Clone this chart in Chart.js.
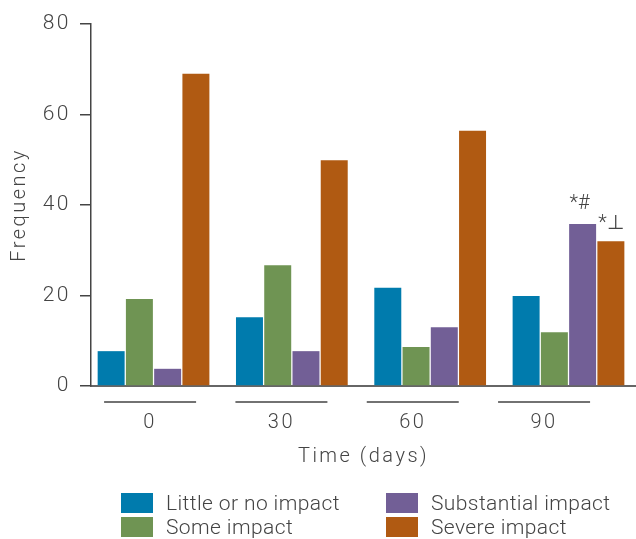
<!DOCTYPE html>
<html><head><meta charset="utf-8">
<script src="https://cdn.jsdelivr.net/npm/chart.js@4"></script>
<style>
html,body{margin:0;padding:0;background:#fff;}
#wrap{position:relative;width:636px;height:539px;}
#legend{position:absolute;left:121px;top:491px;display:grid;grid-template-rows:24px 24px;grid-auto-flow:column;grid-template-columns:265px auto;font:300 21px Roboto, sans-serif;letter-spacing:0.4px;color:#444;}
.item{display:flex;align-items:center;white-space:nowrap;}
.box{width:32px;height:20px;margin-right:13px;flex:none;}
</style></head><body>
<div id="wrap"><canvas id="c" width="636" height="539"></canvas><div id="legend"></div></div>
<script>
const categories = ['0', '30', '60', '90'];
const seriesNames = ['Little or no impact', 'Some impact', 'Substantial impact', 'Severe impact'];
const littleImpact = [7.7, 15.2, 21.7, 19.9];
const someImpact = [19.2, 26.7, 8.6, 11.9];
const substantialImpact = [3.8, 7.7, 13.0, 35.8];
const severeImpact = [69.0, 49.9, 56.4, 32.0];
const substantialMarks = ['', '', '', '*#'];
const severeMarks = ['', '', '', '*\u22A5'];
const yTicks = [0, 20, 40, 60, 80];
const xTitle = 'Time (days)';
const yTitle = 'Frequency';

const colors = ['#007bad', '#6f9453', '#725f96', '#b05a12'];
const seriesValues = [littleImpact, someImpact, substantialImpact, severeImpact];
const TXT = '#444';
const FONT = {family: 'Roboto', size: 20, weight: 300};

const datasets = seriesValues.map((vals, d) => ({
  label: seriesNames[d],
  data: vals.map((v, i) => ({x: i, y: v})),
  backgroundColor: colors[d],
  borderWidth: 0,
  barPercentage: 0.955,
  categoryPercentage: 0.817
}));

const spacingPlugin = {
  id: 'spacing',
  beforeDraw(chart) { chart.ctx.letterSpacing = '2.5px'; }
};

const marksPlugin = {
  id: 'marks',
  afterDatasetsDraw(chart) {
    const ctx = chart.ctx;
    ctx.save();
    ctx.letterSpacing = '0px';
    ctx.font = '300 20px Roboto, "DejaVu Sans"';
    ctx.fillStyle = TXT;
    ctx.textAlign = 'center';
    ctx.textBaseline = 'bottom';
    [[2, substantialMarks, -3, -10], [3, severeMarks, 0, -7]].forEach(([di, marks, dx, dy]) => {
      const meta = chart.getDatasetMeta(di);
      marks.forEach((m, i) => {
        if (!m) return;
        const el = meta.data[i];
        ctx.fillText(m, el.x + dx, el.y + dy);
      });
    });
    ctx.restore();
  },
  afterDraw(chart) {
    const s = chart.scales.x2;
    const ctx = chart.ctx;
    ctx.save();
    ctx.strokeStyle = TXT;
    ctx.lineWidth = 1.5;
    ctx.beginPath();
    categories.forEach((_, i) => {
      const px = s.getPixelForValue(i);
      ctx.moveTo(px - 46, s.top + 16);
      ctx.lineTo(px + 46, s.top + 16);
    });
    ctx.stroke();
    ctx.restore();
  }
};

const chart = new Chart(document.getElementById('c'), {
  type: 'bar',
  data: {datasets},
  plugins: [spacingPlugin, marksPlugin],
  options: {
    responsive: false,
    animation: false,
    devicePixelRatio: 1,
    layout: {padding: {left: 0, right: 0, top: 24, bottom: 65}},
    plugins: {legend: {display: false}, tooltip: {enabled: false}},
    scales: {
      x: {
        type: 'linear', position: 'bottom', weight: 0, offset: false,
        min: -0.452, max: 3.488,
        afterBuildTicks: s => { s.ticks = categories.map((_, i) => ({value: i})); },
        grid: {display: false, drawTicks: false, offset: false},
        border: {display: true, color: '#666', width: 2},
        ticks: {display: false},
        afterFit: s => { s.height = 0; }
      },
      x2: {
        type: 'linear', position: 'bottom', weight: 1, offset: false,
        min: -0.45, max: 3.70,
        afterBuildTicks: s => { s.ticks = categories.map((_, i) => ({value: i})); },
        grid: {display: false, drawTicks: false, offset: false},
        border: {display: false},
        ticks: {color: TXT, font: FONT, padding: 25, callback: v => categories[v]},
        title: {display: true, text: xTitle, color: TXT, font: FONT, padding: {top: 5, bottom: 5}},
        afterFit: s => { s.height = 88; }
      },
      y: {
        min: 0, max: 80,
        afterBuildTicks: s => { s.ticks = yTicks.map(v => ({value: v})); },
        grid: {drawOnChartArea: false, drawTicks: true, tickLength: 11, color: TXT, lineWidth: 1.5},
        border: {color: TXT, width: 1.5},
        ticks: {color: TXT, font: {family: 'Roboto', size: 21, weight: 300}, padding: 9},
        title: {display: true, text: yTitle, color: TXT, font: FONT, padding: {top: 8, bottom: 8}},
        afterFit: s => { s.width = 91; }
      }
    }
  }
});

const leg = document.getElementById('legend');
seriesNames.forEach((name, d) => {
  const it = document.createElement('div');
  it.className = 'item';
  const b = document.createElement('span');
  b.className = 'box';
  b.style.background = colors[d];
  const t = document.createElement('span');
  t.textContent = name;
  it.appendChild(b); it.appendChild(t);
  leg.appendChild(it);
});
</script>
</body></html>
